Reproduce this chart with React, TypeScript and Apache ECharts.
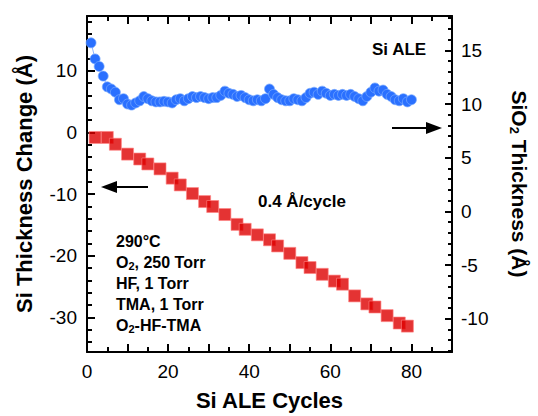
import React, { useEffect, useRef } from "react";
import * as echarts from "echarts";

// ---- data ----
const redCycles = [2, 5, 7, 10, 13, 15, 18, 21, 23, 26, 29, 31, 34, 37, 39, 42, 45, 47, 50, 53, 55, 58, 61, 63, 66, 69, 71, 74, 77, 79];
const siThicknessChange = [-0.8, -0.8, -1.9, -3.5, -4.3, -5.1, -5.9, -7.4, -8.5, -9.9, -11.2, -12.0, -13.3, -14.9, -15.7, -16.6, -17.4, -18.4, -19.6, -21.1, -21.9, -23.0, -24.1, -24.6, -26.5, -27.8, -28.3, -29.7, -30.9, -31.4];

const blueCycles = [1, 2, 3, 4, 5, 6, 7, 8, 9, 10, 11, 12, 13, 14, 15, 16, 17, 18, 19, 20, 21, 22, 23, 24, 25, 26, 27, 28, 29, 30, 31, 32, 33, 34, 35, 36, 37, 38, 39, 40, 41, 42, 43, 44, 45, 46, 47, 48, 49, 50, 51, 52, 53, 54, 55, 56, 57, 58, 59, 60, 61, 62, 63, 64, 65, 66, 67, 68, 69, 70, 71, 72, 73, 74, 75, 76, 77, 78, 79, 80];
const sio2Thickness = [15.7, 14.2, 13.5, 12.6, 11.6, 11.4, 11.1, 10.4, 10.5, 10.0, 9.9, 10.1, 10.3, 10.7, 10.5, 10.3, 10.2, 10.2, 10.25, 10.2, 10.1, 10.4, 10.5, 10.3, 10.5, 10.7, 10.6, 10.7, 10.6, 10.5, 10.6, 10.6, 10.8, 11.2, 11.0, 10.9, 10.7, 10.8, 10.6, 10.4, 10.3, 10.4, 10.3, 10.5, 11.4, 10.9, 10.6, 10.4, 10.3, 10.3, 10.5, 10.4, 10.3, 10.6, 11.0, 11.1, 10.9, 11.2, 11.0, 10.8, 10.9, 10.8, 10.9, 10.8, 10.9, 10.7, 10.5, 10.3, 10.7, 11.1, 11.5, 11.2, 11.3, 10.9, 10.7, 10.4, 10.3, 10.5, 10.2, 10.4];

const xLabels = [0, 20, 40, 60, 80];
const xMinorTicks = [5, 10, 15, 20, 25, 30, 35, 40, 45, 50, 55, 60, 65, 70, 75, 80, 85];
const xMajorTicks = [10, 20, 30, 40, 50, 60, 70, 80];
const leftLabels = [-30, -20, -10, 0, 10];
const leftTicks = [-34, -32, -30, -28, -26, -24, -22, -20, -18, -16, -14, -12, -10, -8, -6, -4, -2, 0, 2, 4, 6, 8, 10, 12, 14, 16, 18];
const rightLabels = [-10, -5, 0, 5, 10, 15];
const rightTicks = [-13, -12, -11, -10, -9, -8, -7, -6, -5, -4, -3, -2, -1, 0, 1, 2, 3, 4, 5, 6, 7, 8, 9, 10, 11, 12, 13, 14, 15, 16, 17, 18];

const FONT = "Liberation Sans, Arial, sans-serif";

export default function App() {
  const ref = useRef<HTMLDivElement>(null);
  useEffect(() => {
    document.body.style.margin = "0";
    const chart = echarts.init(ref.current!, undefined, { renderer: "svg" });
    const black = "#000";
    const hidden = { show: false };
    const noLine = { show: false, onZero: false };
    const baseX = { type: "value", min: 0, max: 90, splitLine: hidden, gridIndex: 0 };
    const tickStyle = { color: black, width: 2 };
    const MINOR = 5;
    const MAJOR = 8;
    const option: any = {
      animation: false,
      backgroundColor: "#fff",
      textStyle: { fontFamily: FONT, color: black },
      grid: { left: 87, right: 74, top: 16, bottom: 58 },
      xAxis: [
        {
          ...baseX,
          position: "bottom",
          name: "Si ALE Cycles",
          nameLocation: "middle",
          nameGap: 37,
          nameTextStyle: { fontSize: 22, fontWeight: "bold", fontFamily: FONT, color: black },
          axisLine: { show: true, onZero: false, lineStyle: { color: black, width: 2 } },
          axisTick: { show: true, inside: true, length: MINOR, customValues: xMinorTicks, lineStyle: tickStyle },
          axisLabel: { show: true, customValues: xLabels, fontSize: 19, margin: 10, color: black, fontFamily: FONT },
        },
        {
          ...baseX,
          position: "bottom",
          axisLine: noLine,
          axisTick: { show: true, inside: true, length: MAJOR, customValues: xMajorTicks, lineStyle: tickStyle },
          axisLabel: hidden,
        },
        {
          ...baseX,
          position: "top",
          axisLine: { show: true, onZero: false, lineStyle: { color: black, width: 2 } },
          axisTick: { show: true, inside: true, length: MINOR, customValues: xMinorTicks, lineStyle: tickStyle },
          axisLabel: hidden,
        },
        {
          ...baseX,
          position: "top",
          axisLine: noLine,
          axisTick: { show: true, inside: true, length: MAJOR, customValues: xMajorTicks, lineStyle: tickStyle },
          axisLabel: hidden,
        },
      ],
      yAxis: [
        {
          type: "value",
          position: "left",
          min: -35.6,
          max: 18.9,
          splitLine: hidden,
          name: "Si Thickness Change (Å)",
          nameLocation: "middle",
          nameGap: 52,
          nameTextStyle: { fontSize: 22, fontWeight: "bold", fontFamily: FONT, color: black },
          axisLine: { show: true, onZero: false, lineStyle: { color: black, width: 2 } },
          axisTick: { show: true, inside: true, length: MINOR, customValues: leftTicks, lineStyle: tickStyle },
          axisLabel: { show: true, customValues: leftLabels, fontSize: 19, margin: 10, color: black, fontFamily: FONT },
        },
        {
          type: "value",
          position: "left",
          min: -35.6,
          max: 18.9,
          splitLine: hidden,
          axisLine: noLine,
          axisTick: { show: true, inside: true, length: MAJOR, customValues: leftLabels, lineStyle: tickStyle },
          axisLabel: hidden,
        },
        {
          type: "value",
          position: "right",
          min: -13.1,
          max: 18.2,
          splitLine: hidden,
          name: "SiO{sub|2} Thickness (Å)",
          nameLocation: "middle",
          nameRotate: -90,
          nameGap: 56,
          nameTextStyle: {
            fontSize: 21,
            fontWeight: "bold",
            fontFamily: FONT,
            color: black,
            rich: { sub: { fontSize: 13, fontWeight: "bold", fontFamily: FONT, color: black, padding: [10, 0, 0, 0] } },
          },
          axisLine: { show: true, onZero: false, lineStyle: { color: black, width: 2 } },
          axisTick: { show: true, inside: true, length: MINOR - 1, customValues: rightTicks, lineStyle: tickStyle },
          axisLabel: { show: true, customValues: rightLabels, fontSize: 19, margin: 9, color: black, fontFamily: FONT },
        },
        {
          type: "value",
          position: "right",
          min: -13.1,
          max: 18.2,
          splitLine: hidden,
          axisLine: noLine,
          axisTick: { show: true, inside: true, length: MAJOR - 1, customValues: rightLabels, lineStyle: tickStyle },
          axisLabel: hidden,
        },
      ],
      series: [
        {
          type: "line",
          xAxisIndex: 0,
          yAxisIndex: 2,
          data: blueCycles.map((c, i) => [c, sio2Thickness[i]]),
          symbol: "circle",
          symbolSize: 10,
          showSymbol: true,
          itemStyle: { color: "#2a70ff", borderColor: "rgba(120,170,255,0.7)", borderWidth: 1 },
          lineStyle: { color: "#8fb6ff", width: 1 },
          z: 3,
        },
        {
          type: "scatter",
          xAxisIndex: 0,
          yAxisIndex: 0,
          data: redCycles.map((c, i) => [c, siThicknessChange[i]]),
          symbol: "rect",
          symbolSize: 12,
          itemStyle: { color: "#dd0000", borderColor: "rgba(255,130,130,0.8)", borderWidth: 1 },
          z: 4,
        },
      ],
      graphic: [
        { type: "line", shape: { x1: 148, y1: 187, x2: 112, y2: 187 }, style: { stroke: black, lineWidth: 2 } },
        { type: "polygon", shape: { points: [[101, 187], [117, 181], [117, 193]] }, style: { fill: black } },
        { type: "line", shape: { x1: 392, y1: 128, x2: 430, y2: 128 }, style: { stroke: black, lineWidth: 2 } },
        { type: "polygon", shape: { points: [[442, 128], [426, 122], [426, 134]] }, style: { fill: black } },
        {
          type: "text",
          x: 372,
          y: 49,
          style: { text: "Si ALE", fontSize: 17, fontWeight: "bold", fontFamily: FONT, fill: black, verticalAlign: "middle" },
        },
        {
          type: "text",
          x: 258,
          y: 201,
          style: { text: "0.4 Å/cycle", fontSize: 17, fontWeight: "bold", fontFamily: FONT, fill: black, verticalAlign: "middle" },
        },
        ...[
          ["290°C", 241],
          ["O{sub|2}, 250 Torr", 262],
          ["HF, 1 Torr", 283],
          ["TMA, 1 Torr", 304],
          ["O{sub|2}-HF-TMA", 325],
        ].map(([t, y]) => ({
          type: "text",
          x: 116,
          y: y as number,
          style: {
            text: t as string,
            fontSize: 16,
            fontWeight: "bold",
            fontFamily: FONT,
            fill: black,
            verticalAlign: "middle",
            rich: {
              sub: { fontSize: 11, fontWeight: "bold", fontFamily: FONT, fill: black, padding: [7, 0, 0, 0] },
            },
          },
        })),
      ],
    };
    chart.setOption(option);
    return () => chart.dispose();
  }, []);
  return <div ref={ref} style={{ width: 538, height: 416 }} />;
}
